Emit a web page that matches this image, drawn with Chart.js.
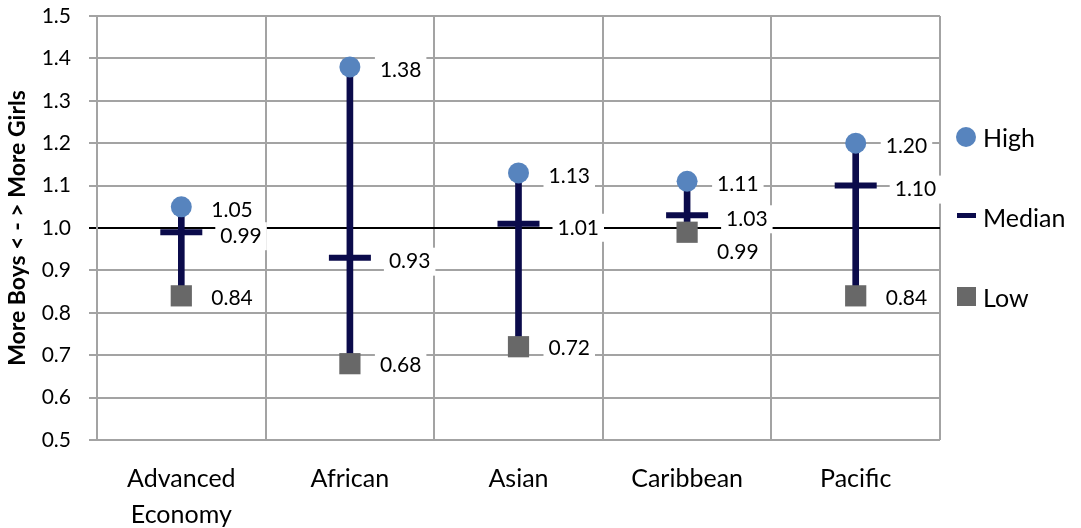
<!DOCTYPE html>
<html>
<head>
<meta charset="utf-8">
<script src="https://cdn.jsdelivr.net/npm/chart.js@4.4.1/dist/chart.umd.min.js"></script>
<style>
  html, body { margin: 0; padding: 0; background: #fff; }
  #wrap { width: 1081px; height: 528px; }
</style>
</head>
<body>
<div id="wrap"><canvas id="genderChart" width="1081" height="528"></canvas></div>
<script>
// chart values
const categories = [['Advanced', 'Economy'], 'African', 'Asian', 'Caribbean', 'Pacific'];
const highValues = [1.05, 1.38, 1.13, 1.11, 1.20];
const medianValues = [0.99, 0.93, 1.01, 1.03, 1.10];
const lowValues = [0.84, 0.68, 0.72, 0.99, 0.84];
const yTicks = [0.5, 0.6, 0.7, 0.8, 0.9, 1.0, 1.1, 1.2, 1.3, 1.4, 1.5];

const FONT = 'Lato, "Open Sans", sans-serif';
const navy = '#0b0b4b';
const blue = '#5784be';
const grey = '#686868';

// white boxed value labels next to each marker
const valueLabels = {
    id: 'valueLabels',
    afterDatasetsDraw(chart) {
        const ctx = chart.ctx;
        ctx.save();
        ctx.font = '21px ' + FONT;
        ctx.textBaseline = 'middle';
        chart.data.datasets.forEach(function (ds, di) {
            if (!ds.showValues) return;
            const meta = chart.getDatasetMeta(di);
            meta.data.forEach(function (pt, i) {
                let dx = ds.labelDx, dy = ds.labelDy;
                // push low label down when it sits right under the median
                if (ds.label === 'Low' && medianValues[i] - lowValues[i] < 0.06) dy += 18;
                const txt = ds.data[i].toFixed(2);
                const w = ctx.measureText(txt).width;
                const x = pt.x + dx, y = pt.y + dy;
                ctx.fillStyle = '#fff';
                ctx.fillRect(x - 5, y - 14, w + 10, 28);
                ctx.fillStyle = '#000';
                ctx.fillText(txt, x, y);
            });
        });
        ctx.restore();
    }
};

// legend on the right
const sideLegend = {
    id: 'sideLegend',
    afterDraw(chart) {
        const ctx = chart.ctx;
        ctx.save();
        ctx.font = '25px ' + FONT;
        ctx.textBaseline = 'middle';
        ctx.fillStyle = blue;
        ctx.beginPath();
        ctx.arc(966, 137, 10, 0, Math.PI * 2);
        ctx.fill();
        ctx.fillStyle = navy;
        ctx.fillRect(957, 213, 19, 5);
        ctx.fillStyle = grey;
        ctx.fillRect(957, 287, 19, 19);
        ctx.fillStyle = '#000';
        ctx.fillText('High', 983, 139);
        ctx.fillText('Median', 983, 219);
        ctx.fillText('Low', 983, 299);
        ctx.restore();
    }
};

let ctx = document.getElementById('genderChart').getContext('2d');
let myChart = new Chart(ctx, {
    type: 'bar',
    data: {
        labels: categories,
        datasets: [{
            label: 'Range',
            data: lowValues.map(function (v, k) { return [v, highValues[k]]; }),
            backgroundColor: navy,
            barThickness: 6,
            order: 4
        }, {
            type: 'line',
            label: 'Median',
            data: medianValues,
            showLine: false,
            pointStyle: 'line',
            pointRadius: 21,
            pointBorderWidth: 6,
            pointBorderColor: navy,
            pointBackgroundColor: navy,
            showValues: true,
            labelDx: 39,
            labelDy: 4,
            order: 3
        }, {
            type: 'line',
            label: 'High',
            data: highValues,
            showLine: false,
            pointStyle: 'circle',
            pointRadius: 10.5,
            pointBorderWidth: 0,
            pointBackgroundColor: blue,
            showValues: true,
            labelDx: 30,
            labelDy: 3,
            order: 2
        }, {
            type: 'line',
            label: 'Low',
            data: lowValues,
            showLine: false,
            pointStyle: 'rect',
            pointRadius: 15,
            pointBorderWidth: 0,
            pointBackgroundColor: grey,
            showValues: true,
            labelDx: 30,
            labelDy: 2,
            order: 1
        }]
    },
    options: {
        responsive: false,
        animation: false,
        layout: { autoPadding: false, padding: { top: 0, right: 141, left: 0, bottom: 0 } },
        plugins: {
            legend: { display: false },
            tooltip: { enabled: false }
        },
        scales: {
            x: {
                offset: true,
                grid: { offset: true, color: '#a3a3a3', lineWidth: 2, drawTicks: false },
                border: { display: false },
                ticks: {
                    color: '#000',
                    font: { family: FONT, size: 25, lineHeight: 1.44 },
                    padding: 21,
                    maxRotation: 0
                },
                afterFit: function (scale) { scale.height = 88; }
            },
            y: {
                min: 0.5,
                max: 1.5,
                afterBuildTicks: function (scale) {
                    scale.ticks = yTicks.map(function (v) { return { value: v }; });
                },
                grid: {
                    color: function (c) {
                        return c.tick && Math.abs(c.tick.value - 1) < 1e-6 ? '#000' : '#a3a3a3';
                    },
                    lineWidth: 2,
                    tickLength: 8
                },
                border: { color: '#a3a3a3', width: 2 },
                ticks: {
                    color: '#000',
                    font: { family: FONT, size: 21 },
                    padding: 18,
                    callback: function (v) { return v.toFixed(1); }
                },
                title: {
                    display: true,
                    text: 'More Boys < - > More Girls',
                    color: '#000',
                    font: { family: FONT, size: 23, weight: 'bold' },
                    padding: { top: 4, bottom: 0 }
                },
                afterFit: function (scale) {
                    scale.width = 97;
                    scale.paddingTop = 16;
                    scale.paddingBottom = 0;
                }
            }
        }
    },
    plugins: [valueLabels, sideLegend]
});
</script>
</body>
</html>
